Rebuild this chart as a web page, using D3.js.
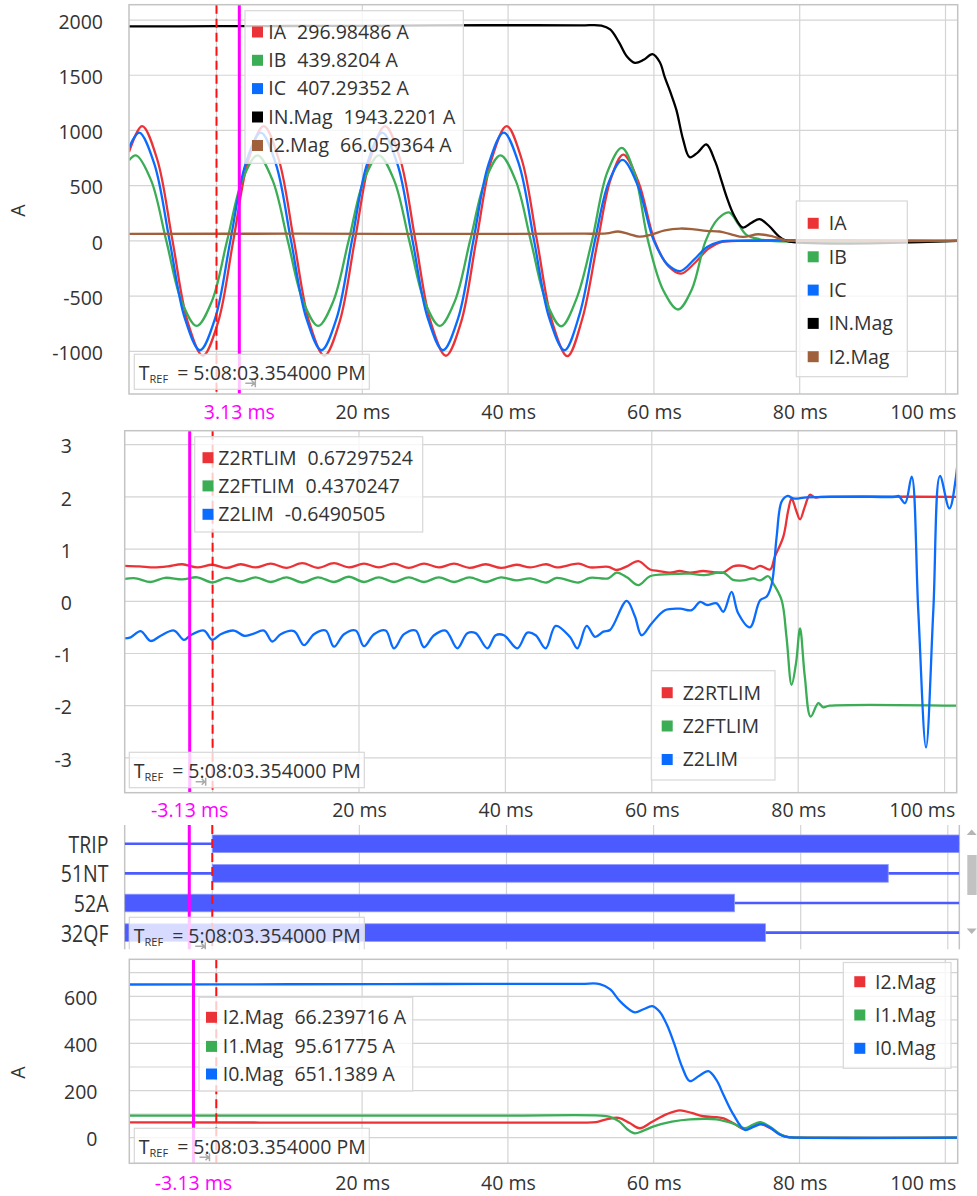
<!DOCTYPE html>
<html>
<head>
<meta charset="utf-8">
<script src="https://cdn.jsdelivr.net/npm/d3@7"></script>
<style>
body { margin: 0; background: #fff; }
text { font-family: "Open Sans", sans-serif; font-size: 19.5px; fill: #333; }
text.cursor-label { fill: #ff00ff; }
tspan.sub { font-size: 11px; }
</style>
</head>
<body>
<svg id="chart"></svg>
<script>
// ---- time axis ----
const timeGrid = [0, 20, 40, 60, 80, 100];
const timeTicks = [20, 40, 60, 80, 100];
const triggerTime = 0;
const cursorTimes = [3.13, -3.13, -3.13, -3.13];
const trefText = "= 5:08:03.354000 PM";

// ---- panel 1: phase currents ----
const currentTicks = [-1000, -500, 0, 500, 1000, 1500, 2000];
const currentNames = ["IA", "IB", "IC", "IN.Mag", "I2.Mag"];
const currentValues = ["296.98486 A", "439.8204 A", "407.29352 A", "1943.2201 A", "66.059364 A"];

const ia = [[-12.0,805],[-10.2,1040],[-8.12,735],[-6.03,0],[-3.95,-735],[-1.87,-1040],[0.22,-735],[2.30,0],[4.38,735],[6.47,1040],[8.55,735],[10.63,0],[12.72,-735],[14.8,-1040],[16.88,-735],[18.97,0],[21.05,735],[23.13,1040],[25.22,735],[27.3,0],[29.38,-735],[31.47,-1040],[33.55,-735],[35.63,0],[37.72,735],[39.8,1040],[41.88,735],[43.97,0],[46.05,-735],[48.13,-1044],[50.2,-700],[52.3,0],[54.1,565],[55.8,782],[57.9,530],[60.1,0],[62.0,-230],[63.7,-297],[65.6,-200],[67.5,-70],[69.3,-10],[71.5,0],[101.9,0]];
const ib = [[-12.0,730],[-11.05,775],[-8.97,548],[-6.88,0],[-4.8,-545],[-2.72,-770],[-0.63,-545],[1.45,0],[3.53,548],[5.62,775],[7.7,548],[9.78,0],[11.87,-545],[13.95,-770],[16.03,-545],[18.12,0],[20.2,548],[22.28,775],[24.37,548],[26.45,0],[28.53,-545],[30.62,-770],[32.7,-545],[34.78,0],[36.87,548],[38.95,775],[41.03,548],[43.12,0],[45.2,-545],[47.28,-773],[49.4,-520],[51.5,0],[53.6,620],[55.6,842],[57.4,600],[59.2,0],[61.3,-450],[63.3,-621],[65.2,-440],[67.1,0],[68.8,200],[70.3,258],[71.6,150],[72.7,55],[74.5,15],[76.0,0],[101.9,0]];
const ic = [[-12.0,845],[-10.6,980],[-8.52,695],[-6.43,0],[-4.35,-700],[-2.27,-990],[-0.18,-700],[1.90,0],[3.98,695],[6.07,980],[8.15,695],[10.23,0],[12.32,-700],[14.4,-990],[16.48,-700],[18.57,0],[20.65,695],[22.73,980],[24.82,695],[26.9,0],[28.98,-700],[31.07,-990],[33.15,-700],[35.23,0],[37.32,695],[39.4,980],[41.48,695],[43.57,0],[45.65,-700],[47.73,-990],[49.8,-665],[51.9,0],[53.8,530],[55.7,733],[57.8,500],[60.0,0],[61.9,-215],[63.6,-273],[65.5,-170],[67.3,-55],[69.0,-8],[70.5,0],[101.9,0]];
const inMag = [[-12.0,1942],[0,1944],[10,1946],[20,1948],[30,1952],[40,1953],[50,1952],[52.8,1950],[54.0,1915],[55.2,1800],[56.3,1670],[57.4,1612],[58.6,1640],[59.8,1691],[60.8,1620],[61.5,1480],[62.3,1340],[63.1,1182],[64.0,920],[64.9,758],[66.0,800],[67.2,873],[68.4,720],[69.2,560],[70.0,394],[71.0,230],[72.2,121],[73.4,165],[74.5,197],[75.8,135],[77.0,50],[78.2,0],[101.9,0]];
const i2MagTop = [[-12.0,64],[10,65],[30,64],[50,65],[53.5,68],[55.1,85],[56.6,62],[58.0,38],[59.5,55],[61.5,95],[63.6,112],[65.5,105],[67.2,91],[69.0,85],[70.6,60],[72.2,36],[74.3,60],[76.0,45],[78.2,2],[79.0,0],[101.9,0]];

// ---- panel 2: zone-2 limits ----
const limitTicks = [-3, -2, -1, 0, 1, 2, 3];
const limitNames = ["Z2RTLIM", "Z2FTLIM", "Z2LIM"];
const limitValues = ["0.67297524", "0.4370247", "-0.6490505"];

const z2rtlim = [[-12.0,0.68],[-10.0,0.67],[-8.0,0.65],[-6.1,0.67],[-4.14,0.71],[-2.1,0.65],[-0.04,0.70],[1.9,0.64],[3.84,0.71],[5.9,0.65],[7.94,0.72],[10.1,0.64],[12.26,0.73],[14.4,0.64],[16.58,0.73],[18.6,0.65],[20.68,0.72],[22.7,0.65],[24.78,0.72],[26.8,0.64],[28.88,0.72],[30.9,0.65],[32.98,0.72],[35.1,0.64],[37.3,0.71],[39.4,0.64],[41.5,0.70],[43.4,0.65],[45.6,0.71],[47.0,0.65],[50.0,0.72],[51.55,0.65],[54.06,0.66],[55.2,0.60],[56.6,0.67],[58.16,0.77],[59.75,0.61],[61.0,0.58],[62.48,0.55],[63.8,0.58],[65.2,0.55],[67.0,0.58],[68.4,0.56],[69.77,0.55],[71.1,0.67],[72.5,0.68],[73.87,0.62],[74.8,0.68],[76.15,0.61],[76.8,0.85],[77.97,1.24],[78.65,1.75],[79.1,1.97],[79.7,1.75],[80.25,1.57],[80.9,1.81],[81.6,2.04],[82.3,1.99],[83.0,2.0],[101.9,2.0]];
const z2ftlim = [[-12.0,0.43],[-10.5,0.44],[-8.46,0.37],[-6.5,0.45],[-4.14,0.42],[-2.1,0.46],[-0.04,0.36],[1.9,0.45],[3.84,0.38],[5.9,0.46],[7.94,0.37],[10.1,0.46],[12.26,0.36],[14.4,0.46],[16.58,0.37],[18.6,0.47],[20.68,0.37],[22.7,0.46],[24.78,0.37],[26.8,0.46],[28.88,0.37],[30.9,0.46],[32.98,0.37],[35.1,0.46],[37.3,0.37],[39.4,0.46],[41.5,0.40],[43.4,0.44],[45.6,0.36],[47.0,0.45],[50.0,0.36],[51.55,0.45],[54.06,0.44],[55.2,0.55],[56.6,0.46],[58.16,0.31],[59.75,0.48],[62.48,0.52],[65.2,0.53],[67.0,0.50],[69.77,0.55],[71.1,0.41],[72.5,0.40],[73.87,0.44],[74.8,0.40],[75.9,0.48],[76.6,0.34],[77.74,0.02],[78.4,-0.68],[79.1,-1.60],[79.7,-1.19],[80.25,-0.52],[80.9,-1.44],[81.7,-2.21],[82.75,-1.95],[83.4,-2.03],[84.3,-2.0],[101.9,-2.0]];
const z2lim = [[-12.1,-0.71],[-11.2,-0.69],[-9.83,-0.57],[-8.46,-0.76],[-7.09,-0.66],[-5.27,-0.56],[-3.91,-0.74],[-3.0,-0.65],[-1.17,-0.56],[-0.04,-0.74],[1.10,-0.63],[2.92,-0.56],[4.29,-0.66],[5.43,-0.63],[7.02,-0.56],[8.16,-0.77],[9.30,-0.63],[11.12,-0.57],[12.49,-0.84],[13.85,-0.63],[15.45,-0.56],[16.58,-0.87],[17.95,-0.63],[19.55,-0.56],[20.68,-0.86],[22.05,-0.63],[23.64,-0.56],[24.78,-0.90],[26.15,-0.63],[27.74,-0.56],[28.88,-0.88],[30.25,-0.65],[31.84,-0.56],[33.43,-0.90],[34.80,-0.61],[35.94,-0.61],[37.53,-0.90],[38.67,-0.65],[39.81,-0.65],[41.63,-0.90],[43.0,-0.60],[44.14,-0.65],[45.5,-0.90],[46.87,-0.47],[48.8,-0.68],[49.83,-0.90],[51.1,-0.47],[52.25,-0.68],[53.38,-0.58],[54.29,-0.55],[56.57,0.01],[57.7,-0.29],[58.6,-0.65],[60.0,-0.42],[61.8,-0.17],[63.85,-0.14],[65.45,-0.17],[66.6,-0.01],[67.5,-0.07],[68.86,-0.04],[69.77,-0.20],[70.9,0.18],[71.8,-0.23],[73.4,-0.50],[74.8,0.02],[75.7,0.09],[76.4,0.34],[77.05,1.23],[77.74,1.91],[78.56,2.02],[79.3,1.97],[81.16,1.99],[85,2.0],[90,2.0],[93.2,2.0],[93.7,2.02],[94.6,1.88],[95.5,2.39],[96.4,-0.17],[97.46,-2.80],[98.46,-0.17],[99.37,2.40],[100.65,1.78],[101.56,2.39],[102.2,3.6]];

// ---- panel 3: digital channels (intervals where the bit is set) ----
const digitalNames = ["TRIP", "51NT", "52A", "32QF"];
const digitalHigh = [[[0, 110]], [[0, 91.9]], [[-20, 71.0]], [[-20, 75.2]]];

// ---- panel 4: sequence magnitudes ----
const seqTicks = [0, 200, 400, 600];
const seqGrid = [0, 100, 200, 300, 400, 500, 600, 700];
const seqNames = ["I2.Mag", "I1.Mag", "I0.Mag"];
const seqValues = ["66.239716 A", "95.61775 A", "651.1389 A"];

const i2Mag = [[-12.0,65],[20,64],[40,64],[50.0,64],[52.1,66],[53.5,78],[55.2,84],[56.7,62],[58.1,40],[59.8,68],[61.8,100],[63.6,116],[65.2,105],[66.8,91],[68.6,87],[69.6,82],[71.0,60],[72.5,36],[74.4,59],[76.0,40],[77.5,12],[78.5,2],[80,0],[101.9,0]];
const i1Mag = [[-12.0,94],[20,94],[40,94],[52.6,94],[54.0,88],[55.3,68],[56.4,35],[57.4,18],[58.6,30],[60.0,48],[62.5,68],[65.0,78],[68.6,78],[70.9,60],[72.5,40],[73.6,55],[74.6,66],[76.0,45],[77.5,12],[78.5,2],[80,0],[101.9,0]];
const i0Mag = [[-12.0,650],[10,651],[30,652],[50,653],[52.6,652],[54.0,630],[55.5,575],[57.4,532],[58.6,545],[59.8,558],[60.8,535],[61.8,480],[62.8,400],[63.9,300],[64.95,240],[66.2,262],[67.5,282],[68.6,245],[69.6,180],[70.9,100],[72.5,33],[73.6,45],[74.8,58],[76.0,42],[77.2,15],[78.2,3],[80,0],[101.9,0]];

const RED = "#eb3337", GREEN = "#3aad55", BLUE = "#0a6cff", BLACK = "#000", BROWN = "#a0603c";
const DIGI = "#4b5bff", MAGENTA = "#ff00ff";

const svg = d3.select("#chart").attr("width", 977).attr("height", 1196);

const line = (x, y) => d3.line().x(d => x(d[0])).y(d => y(d[1])).curve(d3.curveCatmullRom.alpha(0.5));

function xScale(p) {
    return d3.scaleLinear()
        .domain([(p.left - p.zeroX) / p.pxPerMs, (p.right - p.zeroX) / p.pxPerMs])
        .range([p.left, p.right]);
}

function drawBox(g, b) {
    g.append("rect")
        .attr("x", b.x).attr("y", b.y).attr("width", b.w).attr("height", b.h)
        .attr("fill", "rgba(255,255,255,0.78)")
        .attr("stroke", "#d8d8d8").attr("stroke-width", 1.2);
}

function drawRows(g, b, rows) {
    rows.forEach((r, i) => {
        let cy = b.rowY[i];
        g.append("rect").attr("x", b.swatchX).attr("y", cy - 5.5).attr("width", 11).attr("height", 11).attr("fill", r.color);
        let t = g.append("text").attr("x", b.textX).attr("y", cy).attr("dy", "0.35em");
        t.append("tspan").text(r.name);
        if (r.value) t.append("tspan").attr("dx", 11).text(r.value);
    });
}

function drawTref(g, b, cursorX) {
    drawBox(g, b);
    g.append("path")
        .attr("d", `M${cursorX + 6},${b.y + b.h - 6} h9 m-3,-3 l3,3 l-3,3 M${cursorX + 16},${b.y + b.h - 10} v8`)
        .attr("stroke", "#aaa").attr("stroke-width", 1.5).attr("fill", "none");
    let t = g.append("text").attr("x", b.x + 4.5).attr("y", b.y + 25.5);
    t.append("tspan").text("T");
    t.append("tspan").attr("class", "sub").attr("dy", 3).text("REF");
    t.append("tspan").attr("dy", -3).attr("dx", 9).text(trefText);
}

function drawCursors(g, x, top, bottom, cursorT) {
    g.append("line").attr("x1", x(triggerTime)).attr("x2", x(triggerTime)).attr("y1", top).attr("y2", bottom)
        .attr("stroke", "#ff1010").attr("stroke-width", 2).attr("stroke-dasharray", "9,5");
    g.append("line").attr("x1", x(cursorT)).attr("x2", x(cursorT)).attr("y1", top).attr("y2", bottom)
        .attr("stroke", MAGENTA).attr("stroke-width", 3);
}

function analogPanel(p) {
    let vis = {};
    vis.g = svg.append("g");
    vis.x = xScale(p);
    vis.y = d3.scaleLinear()
        .domain([(p.zeroY - p.bottom) / p.pxPerUnit, (p.zeroY - p.top) / p.pxPerUnit])
        .range([p.bottom, p.top]);

    svg.append("clipPath").attr("id", "clip" + p.key)
        .append("rect").attr("x", p.left).attr("y", p.top)
        .attr("width", p.right - p.left).attr("height", p.bottom - p.top);

    // grid
    vis.g.append("g").selectAll("line").data(p.yGrid).join("line")
        .attr("x1", p.left).attr("x2", p.right)
        .attr("y1", d => vis.y(d)).attr("y2", d => vis.y(d))
        .attr("stroke", "#d4d4d4").attr("stroke-width", 1.2);
    vis.g.append("g").selectAll("line").data(timeGrid).join("line")
        .attr("x1", d => vis.x(d)).attr("x2", d => vis.x(d))
        .attr("y1", p.top).attr("y2", p.bottom)
        .attr("stroke", "#d4d4d4").attr("stroke-width", 1.2);

    // axes
    vis.g.append("g")
        .attr("transform", `translate(${p.yLabelRight},2)`)
        .call(d3.axisLeft(vis.y).tickValues(p.yTicks).tickFormat(d => String(d)).tickSize(0).tickPadding(0))
        .call(a => a.select(".domain").remove());
    let xa = vis.g.append("g")
        .attr("transform", `translate(0,${p.xLabelY})`)
        .call(d3.axisBottom(vis.x).tickValues(timeTicks).tickFormat(d => d + " ms").tickSize(0).tickPadding(0))
        .call(a => a.select(".domain").remove());
    xa.selectAll("text").attr("dy", "0.35em");
    // the last label is pulled inside the plot edge, as in the reference
    xa.selectAll(".tick").filter(d => d === timeTicks[timeTicks.length - 1]).select("text")
        .attr("text-anchor", "end")
        .attr("x", p.right - 2 - vis.x(timeTicks[timeTicks.length - 1]));
    vis.g.append("text").attr("class", "cursor-label")
        .attr("x", vis.x(p.cursor)).attr("y", p.xLabelY).attr("dy", "0.35em")
        .attr("text-anchor", "middle").text(p.cursor.toFixed(2) + " ms");
    if (p.unit) {
        vis.g.append("text")
            .attr("transform", `translate(${p.unitX},${p.unitY}) rotate(-90)`)
            .attr("text-anchor", "middle").attr("dy", "0.35em").text(p.unit);
    }

    // traces
    let traces = vis.g.append("g").attr("clip-path", `url(#clip${p.key})`);
    p.series.forEach(s => {
        traces.append("path").datum(s.data)
            .attr("d", line(vis.x, vis.y))
            .attr("fill", "none").attr("stroke", s.color).attr("stroke-width", 2.3);
    });
    drawCursors(traces, vis.x, p.top, p.bottom, p.cursor);

    // overlays
    drawBox(vis.g, p.tip);
    drawRows(vis.g, p.tip, p.series.map((s, i) => ({color: s.color, name: s.name, value: p.values[i]})));
    drawBox(vis.g, p.legend);
    drawRows(vis.g, p.legend, p.series.map(s => ({color: s.color, name: s.name})));
    drawTref(vis.g, p.tref, vis.x(p.cursor));

    // frame
    vis.g.append("rect").attr("x", p.left).attr("y", p.top)
        .attr("width", p.right - p.left).attr("height", p.bottom - p.top)
        .attr("fill", "none").attr("stroke", "#c4c4c4").attr("stroke-width", 1.5);
    return vis;
}

// panel 1
analogPanel({
    key: 1, left: 129, right: 957.7, top: 4.7, bottom: 394,
    zeroX: 216.5, pxPerMs: 7.29, zeroY: 240.9, pxPerUnit: 0.11043,
    yTicks: currentTicks, yGrid: currentTicks, yLabelRight: 103, xLabelY: 412,
    cursor: cursorTimes[0], unit: "A", unitX: 18, unitY: 210.5,
    series: [
        {name: currentNames[0], color: RED, data: ia},
        {name: currentNames[1], color: GREEN, data: ib},
        {name: currentNames[2], color: BLUE, data: ic},
        {name: currentNames[3], color: BLACK, data: inMag},
        {name: currentNames[4], color: BROWN, data: i2MagTop}
    ],
    values: currentValues,
    tip: {x: 245, y: 10.7, w: 218.3, h: 152.6, swatchX: 252, textX: 268.3, rowY: [32, 60.3, 88.6, 117, 145.5]},
    legend: {x: 796.3, y: 201, w: 111, h: 175.7, swatchX: 807.7, textX: 828.7, rowY: [223.3, 256.8, 290.1, 323.4, 356.7]},
    tref: {x: 134.3, y: 354.3, w: 235, h: 35}
});

// panel 2
analogPanel({
    key: 2, left: 124.7, right: 956.7, top: 430.7, bottom: 792.7,
    zeroX: 212.6, pxPerMs: 7.32, zeroY: 601.3, pxPerUnit: 52.2,
    yTicks: limitTicks, yGrid: limitTicks, yLabelRight: 72, xLabelY: 810,
    cursor: cursorTimes[1],
    series: [
        {name: limitNames[0], color: RED, data: z2rtlim},
        {name: limitNames[1], color: GREEN, data: z2ftlim},
        {name: limitNames[2], color: BLUE, data: z2lim}
    ],
    values: limitValues,
    tip: {x: 194.7, y: 436.7, w: 228, h: 95.3, swatchX: 202.5, textX: 218.3, rowY: [457.7, 485.9, 514.3]},
    legend: {x: 651.3, y: 670.7, w: 123.7, h: 109.3, swatchX: 661.7, textX: 682.7, rowY: [692.7, 726, 759.5]},
    tref: {x: 129.3, y: 752.3, w: 235, h: 35.4}
});

// panel 3: digital
(function () {
    let p = {left: 124.7, right: 959.3, top: 825, bottom: 949.3, zeroX: 212.3, pxPerMs: 7.355};
    let g = svg.append("g");
    let x = xScale(p);
    let y = d3.scaleBand().domain(digitalNames).range([829, 947.4]);
    svg.append("clipPath").attr("id", "clip3")
        .append("rect").attr("x", p.left).attr("y", p.top)
        .attr("width", p.right - p.left).attr("height", p.bottom - p.top);

    g.append("g").selectAll("line").data(timeGrid).join("line")
        .attr("x1", d => x(d)).attr("x2", d => x(d))
        .attr("y1", p.top).attr("y2", p.bottom)
        .attr("stroke", "#d4d4d4").attr("stroke-width", 1.2);
    [p.left, p.right].forEach(v => g.append("line").attr("x1", v).attr("x2", v)
        .attr("y1", p.top).attr("y2", p.bottom).attr("stroke", "#c4c4c4").attr("stroke-width", 1.5));

    // channel names are drawn taller than the other labels in the reference
    g.append("g").attr("transform", "translate(108.5,0)")
        .call(d3.axisLeft(y).tickSize(0).tickPadding(0))
        .call(a => a.select(".domain").remove())
        .selectAll("text").attr("dy", "0.36em").attr("transform", "translate(0,0.5) scale(1,1.22)");

    let body = g.append("g").attr("clip-path", "url(#clip3)");
    digitalNames.forEach((name, i) => {
        let cy = y(name) + y.bandwidth() / 2;
        body.append("line").attr("x1", p.left).attr("x2", p.right).attr("y1", cy).attr("y2", cy)
            .attr("stroke", DIGI).attr("stroke-width", 2.6);
        body.selectAll(null).data(digitalHigh[i]).join("rect")
            .attr("x", d => x(Math.max(d[0], x.domain()[0])))
            .attr("width", d => x(Math.min(d[1], x.domain()[1])) - x(Math.max(d[0], x.domain()[0])))
            .attr("y", cy - 8.8).attr("height", 17.6)
            .attr("fill", DIGI).attr("stroke", "#8d98ff").attr("stroke-width", 0.8);
    });
    drawCursors(body, x, p.top, p.bottom, cursorTimes[2]);
    let over = g.append("g").attr("clip-path", "url(#clip3)");
    drawTref(over, {x: 129.3, y: 917.3, w: 235, h: 35}, x(cursorTimes[2]));

    // scrollbar
    g.append("path").attr("d", "M971.7,829.5 l5,5.5 h-10 z").attr("fill", "#b5b5b5");
    g.append("rect").attr("x", 967.3).attr("y", 855).attr("width", 9.4).attr("height", 40).attr("fill", "#c2c2c2");
    g.append("path").attr("d", "M971.7,934 l5,-5.5 h-10 z").attr("fill", "#b5b5b5");
})();

// panel 4
analogPanel({
    key: 4, left: 129.3, right: 957.7, top: 959.3, bottom: 1163.3,
    zeroX: 216.3, pxPerMs: 7.29, zeroY: 1137.7, pxPerUnit: 0.2357,
    yTicks: seqTicks, yGrid: seqGrid, yLabelRight: 97.5, xLabelY: 1183,
    cursor: cursorTimes[3], unit: "A", unitX: 18, unitY: 1072.7,
    series: [
        {name: seqNames[0], color: RED, data: i2Mag},
        {name: seqNames[1], color: GREEN, data: i1Mag},
        {name: seqNames[2], color: BLUE, data: i0Mag}
    ],
    values: seqValues,
    tip: {x: 199, y: 997.3, w: 213.7, h: 93.7, swatchX: 206, textX: 222.7, rowY: [1017.3, 1046.4, 1074]},
    legend: {x: 843.3, y: 962.5, w: 107.7, h: 105.8, swatchX: 854.3, textX: 875, rowY: [981.7, 1015, 1048.3]},
    tref: {x: 134.3, y: 1128.3, w: 235, h: 35}
});
</script>
</body>
</html>
